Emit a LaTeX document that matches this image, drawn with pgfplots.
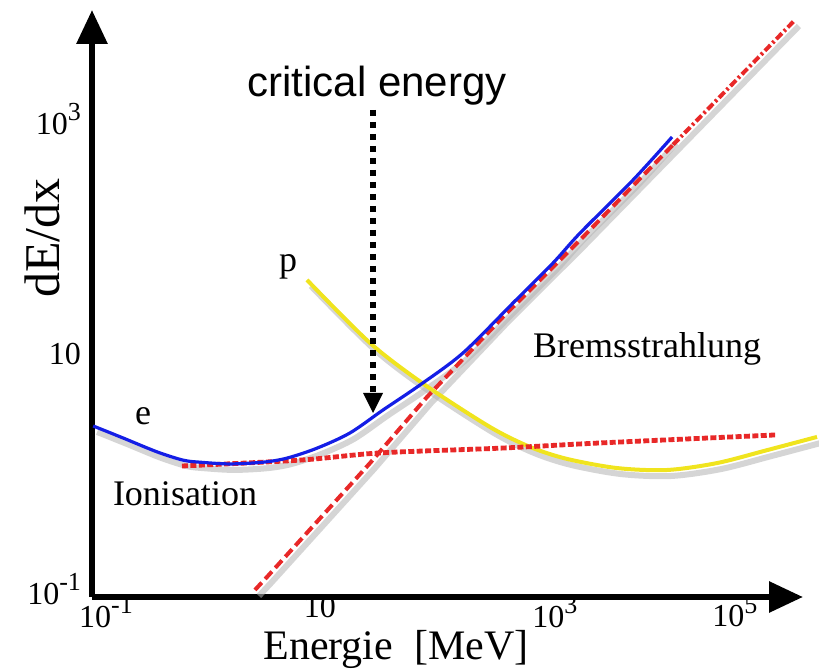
\documentclass[border=0pt]{standalone}
\usepackage{fontspec}
\setmainfont{Liberation Serif}
\newfontfamily\arial{Liberation Sans}
\usepackage{pgfplots}
\pgfplotsset{compat=1.18}
\usetikzlibrary{arrows.meta}
\definecolor{eblue}{RGB}{20,30,230}
\definecolor{pyellow}{RGB}{240,228,30}
\definecolor{bred}{RGB}{232,40,40}
\newcommand{\tl}{\fontsize{16}{18}\selectfont}
\newcommand{\sexp}[1]{\raisebox{0.42em}{\fontsize{13}{13}\selectfont #1}}
\begin{document}
\begin{tikzpicture}
\path[use as bounding box] (0,0) rectangle (409.5pt,334.5pt);
\begin{axis}[
  at={(46pt,36pt)}, anchor=south west,
  scale only axis, width=355.5pt, height=293.5pt,
  xmode=log, ymode=log,
  xmin=0.0741, xmax=327000,
  ymin=0.0855, ymax=8470,
  axis lines=left,
  axis line style={line width=3pt, -{Triangle[length=17pt,width=15pt]}},
  major tick length=0pt, minor tick length=0pt,
  minor xtick={}, minor ytick={},
  xtick={0.1,10,1000,100000},
  xticklabels={{\tl 10\sexp{-1}},{\tl 10},{\tl\hspace*{21pt}10\sexp{3}},{\tl 10\sexp{5}\hspace*{13pt}}},
  ytick={0.1,10,1000},
  yticklabels={{\tl 10\sexp{-1}},{\tl 10},{\tl 10\sexp{3}}},
  xticklabel style={yshift=1.5pt, inner sep=1pt},
  yticklabel style={xshift=-2pt},
  clip=false,
]
% shadows
\addplot[no marks, smooth, line width=3pt, black!30, opacity=0.55, transform canvas={xshift=2pt,yshift=-3pt}] coordinates {
 (7.57,42.7) (29.4,12.4) (95.9,5.45) (389,2.39) (918,1.62) (2037,1.28) (5980,1.07) (17500,1.03) (51400,1.18) (151000,1.52) (442000,1.97)};
\addplot[no marks, line width=3pt, black!30, opacity=0.55, transform canvas={xshift=2pt,yshift=-3pt}] coordinates {
 (2.47,0.0982) (3.20,0.1265) (29.4,1.18) (100.2,4.31) (514,20.7) (2697,93.4) (275000,6960)};
\addplot[no marks, smooth, line width=3pt, black!30, opacity=0.55, transform canvas={xshift=2pt,yshift=-3pt}] coordinates {
 (0.076,2.44) (0.1445,1.93) (0.300,1.47) (0.525,1.25) (0.757,1.20) (1.445,1.16) (2.94,1.20) (4.92,1.30) (9.39,1.58) (19.1,2.13) (38.9,3.34) (86.1,5.45) (217,10.2) (638,27.2) (1507,59.5) (2697,107) (8440,303) (19540,703)};
% proton (yellow)
\addplot[no marks, smooth, line width=2pt, pyellow] coordinates {
 (7.57,42.7) (29.4,12.4) (95.9,5.45) (389,2.39) (918,1.62) (2037,1.28) (5980,1.07) (17500,1.03) (51400,1.18) (151000,1.52) (442000,1.97)};
% ionisation (red, dense dashes)
\addplot[no marks, smooth, line width=2.4pt, bred, dash pattern=on 3pt off 1.2pt] coordinates {
 (0.514,1.114) (6.51,1.25) (36.5,1.44) (482,1.58) (4150,1.75) (187000,2.05)};
% bremsstrahlung (red dashed, dash-dot beyond the electron curve)
\addplot[no marks, line width=2pt, bred, dash pattern=on 5pt off 2.5pt] coordinates {
 (2.47,0.0982) (3.20,0.1265) (29.4,1.18) (100.2,4.31) (514,20.7) (2697,93.4) (20000,605)};
\addplot[no marks, line width=2pt, bred, dash pattern=on 4pt off 1.5pt on 1.2pt off 1.5pt] coordinates {
 (20000,605) (275000,6960)};
% electron (blue)
\addplot[no marks, smooth, line width=1.6pt, eblue] coordinates {
 (0.076,2.44) (0.1445,1.93) (0.300,1.47) (0.525,1.25) (0.757,1.20) (1.445,1.16) (2.94,1.20) (4.92,1.30) (9.39,1.58) (19.1,2.13) (38.9,3.34) (86.1,5.45) (217,10.2) (638,27.2) (1507,59.5) (2697,107) (8440,303) (19540,703)};
\end{axis}
% annotations
\draw[line width=3pt, dash pattern=on 3pt off 3pt] (186.5pt,279.5pt) -- (186.5pt,137pt);
\fill (181.5pt,138pt) -- (191.5pt,138pt) -- (186.5pt,128pt) -- cycle;
\node[anchor=base, inner sep=0pt, font=\arial\fontsize{21}{25}\selectfont] at (188.5pt,286pt) {critical energy};
\node[rotate=90, inner sep=0pt, font=\fontsize{25}{30}\selectfont] at (21pt,215.5pt) {dE/dx};
\node[anchor=base, inner sep=0pt, font=\fontsize{21}{25}\selectfont] at (198pt,4.5pt) {Energie\ \ [MeV]};
\node[anchor=base, inner sep=0pt, font=\fontsize{18}{22}\selectfont] at (71.5pt,122pt) {e};
\node[anchor=base, inner sep=0pt, font=\fontsize{18}{22}\selectfont] at (144pt,198.5pt) {p};
\node[anchor=base, inner sep=0pt, font=\fontsize{18}{22}\selectfont] at (92.5pt,81.5pt) {Ionisation};
\node[anchor=base, inner sep=0pt, font=\fontsize{18}{22}\selectfont] at (323.5pt,155.5pt) {Bremsstrahlung};
\end{tikzpicture}
\end{document}
